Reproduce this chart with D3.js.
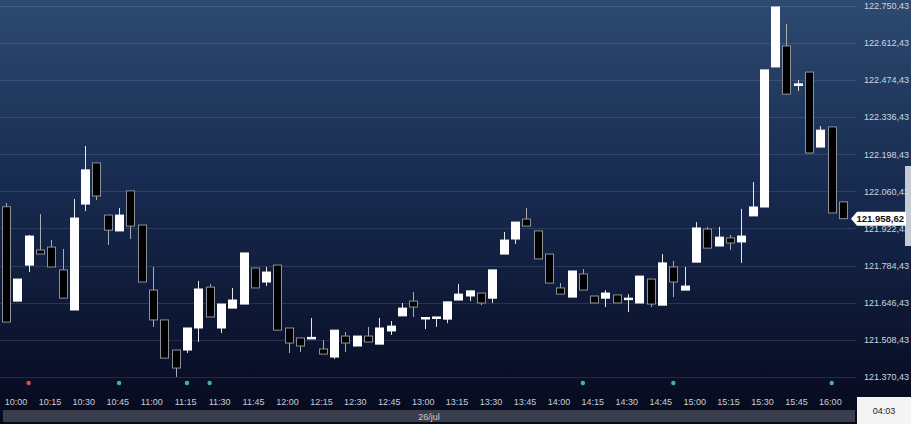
<!DOCTYPE html>
<html><head><meta charset="utf-8">
<script src="https://cdn.jsdelivr.net/npm/d3@7"></script>
<style>html,body{margin:0;padding:0;background:#070b1e;overflow:hidden}svg{display:block}</style>
</head><body><svg id="c" width="911" height="424"></svg>
<script>
const times = ["10:00","10:05","10:10","10:15","10:20","10:25","10:30","10:35","10:40","10:45","10:50","10:55",
"11:00","11:05","11:10","11:15","11:20","11:25","11:30","11:35","11:40","11:45","11:50","11:55",
"12:00","12:05","12:10","12:15","12:20","12:25","12:30","12:35","12:40","12:45","12:50","12:55",
"13:00","13:05","13:10","13:15","13:20","13:25","13:30","13:35","13:40","13:45","13:50","13:55",
"14:00","14:05","14:10","14:15","14:20","14:25","14:30","14:35","14:40","14:45","14:50","14:55",
"15:00","15:05","15:10","15:15","15:20","15:25","15:30","15:35","15:40","15:45","15:50","15:55",
"16:00","16:05","16:10"];
const open  = [122003,121652,121786,121842,121853,121768,121619,122013,122166,121972,121913,122062,
121935,121693,121582,121470,121470,121552,121704,121552,121626,121641,121775,121723,
121786,121552,121515,121513,121474,121444,121522,121485,121522,121492,121541,121597,
121652,121589,121591,121585,121656,121671,121682,121663,121827,121883,121957,121913,
121827,121701,121667,121753,121671,121663,121675,121660,121645,121734,121637,121779,
121693,121797,121920,121857,121887,121872,121969,122002,122523,122601,122458,122504,
122225,122300,122021];
const high  = [122017,121734,121898,121976,121879,121846,122032,122229,122166,121972,121998,122062,
121935,121779,121582,121470,121552,121727,121716,121641,121701,121831,121775,121779,
121786,121552,121515,121589,121507,121544,121537,121522,121556,121589,121578,121645,
121686,121591,121593,121649,121716,121690,121682,121768,121909,121946,121998,121913,
121827,121719,121764,121771,121671,121693,121675,121678,121745,121734,121827,121801,
121779,121946,121928,121928,121898,121995,122095,122512,122746,122683,122474,122504,
122303,122300,122021];
const low   = [121574,121652,121760,121827,121779,121663,121619,121987,122028,121861,121913,121883,
121723,121556,121440,121370,121459,121500,121593,121533,121626,121641,121701,121708,
121544,121459,121463,121511,121455,121437,121463,121485,121500,121492,121526,121597,
121593,121548,121556,121570,121656,121652,121637,121645,121827,121864,121931,121809,
121719,121678,121667,121693,121645,121630,121645,121611,121645,121630,121637,121667,
121693,121797,121849,121857,121842,121794,121969,122002,122523,122419,122434,122203,
122225,121980,121958.62];
const close = [121574,121734,121894,121827,121779,121663,121961,122140,122043,121916,121972,121931,
121723,121582,121440,121403,121552,121697,121593,121641,121656,121831,121701,121760,
121544,121496,121485,121517,121455,121544,121496,121522,121500,121552,121559,121626,
121630,121591,121593,121649,121678,121690,121645,121768,121879,121946,121931,121809,
121719,121678,121764,121693,121645,121682,121645,121663,121745,121641,121794,121723,
121708,121924,121849,121890,121868,121894,122002,122512,122746,122422,122460,122203,
122288,121980,121958.62];
const priceTicks = [121370.43,121508.43,121646.43,121784.43,121922.43,122060.43,122198.43,122336.43,122474.43,122612.43,122750.43];
const timeTicks = ["10:00","10:15","10:30","10:45","11:00","11:15","11:30","11:45","12:00","12:15","12:30","12:45",
"13:00","13:15","13:30","13:45","14:00","14:15","14:30","14:45","15:00","15:15","15:30","15:45","16:00"];
const lastPrice = 121958.62;
const markerTimes = ["10:10","10:50","11:20","11:30","14:15","14:55","16:05"];
const markerKinds = ["sell","buy","buy","buy","buy","buy","buy"];
const dateLabel = "26/jul";
const clockLabel = "04:03";

const svg = d3.select("#c");
const W = 911, H = 424;
const parse = d3.timeParse("%H:%M");
const loc = d3.formatLocale({decimal:",", thousands:".", grouping:[3], currency:["",""]});
const fmt = loc.format(",.2f");

const defs = svg.append("defs");
const g = defs.append("linearGradient").attr("id","bg").attr("x1",0).attr("y1",0).attr("x2",0).attr("y2",1);
g.append("stop").attr("offset","0%").attr("stop-color","#2d4a70");
g.append("stop").attr("offset","45%").attr("stop-color","#172a4f");
g.append("stop").attr("offset","90%").attr("stop-color","#090e26");
g.append("stop").attr("offset","100%").attr("stop-color","#060a1c");
svg.append("rect").attr("width",W).attr("height",H).attr("fill","url(#bg)");

const x = d3.scaleTime().domain([parse("10:00"), parse("16:10")]).range([6, 843]);
const y = d3.scaleLinear().domain([121370.43, 122750.43]).range([376.8, 5.8]);

// grid
const grid = svg.append("g").attr("transform","translate(856,0)")
  .call(d3.axisLeft(y).tickValues(priceTicks).tickSize(856).tickFormat(""));
grid.select(".domain").remove();
grid.selectAll("line").attr("stroke","rgba(170,195,230,0.16)").attr("shape-rendering","crispEdges");

// price axis
const ya = svg.append("g").attr("transform","translate(909,0)")
  .call(d3.axisLeft(y).tickValues(priceTicks).tickSize(0).tickPadding(0).tickFormat(fmt));
ya.select(".domain").remove();
ya.selectAll("text").attr("fill","#cfd5df").attr("font-family","Liberation Sans, Arial, sans-serif").attr("font-size","9px");

// candles
const data = times.map((t,i)=>({t:parse(t), o:open[i], h:high[i], l:low[i], c:close[i]}));
const bw = 8;
const cg = svg.append("g");
data.forEach(d=>{
  const cx = Math.round(x(d.t));
  const up = d.c >= d.o;
  cg.append("line").attr("x1",cx+0.5).attr("x2",cx+0.5).attr("y1",y(d.h)).attr("y2",y(d.l))
    .attr("stroke", up ? "#e6e6e6" : "#a9acb2").attr("stroke-width",1);
  const top = y(Math.max(d.o,d.c)), bot = y(Math.min(d.o,d.c));
  const hgt = Math.max(1.5, bot-top);
  cg.append("rect").attr("x",cx-bw/2+0.5).attr("y",top).attr("width",bw).attr("height",hgt)
    .attr("fill", up ? "#ffffff" : "#000000")
    .attr("stroke", up ? "#ffffff" : "#8d9096").attr("stroke-width",1);
});

// markers
markerTimes.forEach((t,i)=>{
  svg.append("circle").attr("cx",x(parse(t))).attr("cy",383).attr("r",2.2)
    .attr("fill", markerKinds[i]==="sell" ? "#e0504a" : "#46b39c");
});

// time axis
const xa = svg.append("g").attr("transform","translate(0,399)")
  .call(d3.axisBottom(x).tickValues(timeTicks.map(parse)).tickSize(0).tickPadding(0).tickFormat(d3.timeFormat("%H:%M")));
xa.select(".domain").remove();
xa.selectAll("text").attr("fill","#c9ced8").attr("dx", 9.5)
  .attr("font-family","Liberation Sans Narrow, Arial Narrow, Liberation Sans, sans-serif").attr("font-size","9px");

// date bar
svg.append("rect").attr("x",3).attr("y",410).attr("width",852).attr("height",12).attr("fill","#3a3e4c");
svg.append("text").attr("x",429).attr("y",419.5).attr("text-anchor","middle").attr("fill","#c4c8d0")
  .attr("font-family","Liberation Sans Narrow, Liberation Sans, sans-serif").attr("font-size","9px").text(dateLabel);

// clock box
svg.append("rect").attr("x",857).attr("y",397).attr("width",54).attr("height",27).attr("fill","#f4f4f4");
svg.append("text").attr("x",884).attr("y",414).attr("text-anchor","middle").attr("fill","#222")
  .attr("font-family","Liberation Sans, sans-serif").attr("font-size","9px").text(clockLabel);

// side tab
svg.append("rect").attr("x",905).attr("y",166).attr("width",6).attr("height",80).attr("fill","#c6cad2");

// last price label
const ly = y(lastPrice);
svg.append("path").attr("d",`M851,${ly} L857,${ly-7} L906,${ly-7} L906,${ly+7} L857,${ly+7} Z`).attr("fill","#ffffff");
svg.append("text").attr("x",904).attr("y",ly+3.5).attr("text-anchor","end").attr("fill","#111")
  .attr("font-family","Liberation Sans, Arial, sans-serif").attr("font-size","9.5px").attr("font-weight","bold")
  .text(fmt(lastPrice));
</script></body></html>
